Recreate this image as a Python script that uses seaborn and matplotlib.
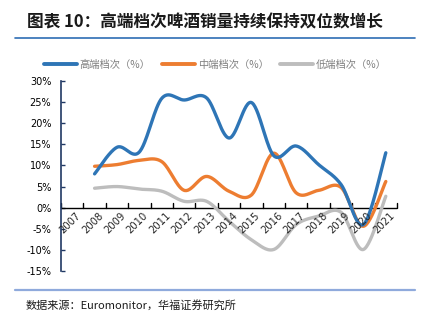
import numpy as np
import pandas as pd
import matplotlib
matplotlib.use("Agg")
import matplotlib.pyplot as plt
import seaborn as sns
from matplotlib.lines import Line2D

sns.set_theme(style="white")
plt.rcParams['font.family'] = ['Noto Sans CJK SC', 'DejaVu Sans']
plt.rcParams['axes.unicode_minus'] = False

years = ["2007", "2008", "2009", "2010", "2011", "2012", "2013", "2014",
         "2015", "2016", "2017", "2018", "2019", "2020", "2021"]
high = [np.nan, 8.0, 14.3, 13.2, 25.9, 25.5, 26.0, 16.5, 24.9, 12.3, 14.6, 10.2, 5.5, -4.0, 13.0]
mid = [np.nan, 9.8, 10.2, 11.2, 10.9, 4.1, 7.4, 3.9, 3.0, 12.9, 3.5, 4.1, 4.8, -4.4, 6.2]
low = [np.nan, 4.6, 5.0, 4.4, 3.9, 1.5, 1.5, -3.2, -7.6, -9.9, -4.0, -2.0, -1.1, -9.9, 2.7]
series_names = ["高端档次（%）", "中端档次（%）", "低端档次（%）"]
colors = ["#2E75B6", "#ED7D31", "#BDBDBD"]
yticks = [30, 25, 20, 15, 10, 5, 0, -5, -10, -15]


def smooth(xs, ys, n=30):
    """Excel-like smoothing (Catmull-Rom / Bezier) for drawing only."""
    xs = np.asarray(xs, float)
    ys = np.asarray(ys, float)
    P = np.column_stack([xs, ys])
    out = []
    for i in range(len(P) - 1):
        p0 = P[i - 1] if i > 0 else P[i]
        p1 = P[i]
        p2 = P[i + 1]
        p3 = P[i + 2] if i + 2 < len(P) else P[i + 1]
        c1 = p1 + (p2 - p0) / 6.0
        c2 = p2 - (p3 - p1) / 6.0
        t = np.linspace(0, 1, n, endpoint=(i == len(P) - 2))[:, None]
        b = ((1 - t) ** 3) * p1 + 3 * ((1 - t) ** 2) * t * c1 + 3 * (1 - t) * t ** 2 * c2 + t ** 3 * p2
        out.append(b)
    out = np.vstack(out)
    return out[:, 0], out[:, 1]


fig = plt.figure(figsize=(4.22, 3.24), dpi=100)
ax = fig.add_axes([0.1445, 0.1636, 0.7963, 0.5864])

xpos = np.arange(len(years))
frames = []
for name, vals in zip(series_names, [high, mid, low]):
    v = np.asarray(vals, float)
    m = ~np.isnan(v)
    sx, sy = smooth(xpos[m], v[m])
    frames.append(pd.DataFrame({"x": sx, "y": sy, "s": name, "order": np.arange(len(sx))}))
df = pd.concat(frames, ignore_index=True)

sns.lineplot(data=df, x="x", y="y", hue="s", palette=dict(zip(series_names, colors)),
             hue_order=series_names[::-1], sort=False, estimator=None, units="s",
             lw=2.4, ax=ax, legend=False, solid_capstyle="round")

ax.set_xlim(-0.5, len(years) - 0.5)
ax.set_ylim(-15, 30)
ax.set_yticks(yticks)
ax.set_yticklabels([f"{t}%" for t in yticks], fontsize=7, color="#000000", family=['DejaVu Sans'])
ax.set_xlabel("")
ax.set_ylabel("")

for s in ["top", "right", "bottom"]:
    ax.spines[s].set_visible(False)
ax.spines["left"].set_color("#203864")
ax.spines["left"].set_linewidth(1.2)
ax.tick_params(axis="y", direction="in", length=3, color="#203864", width=1, pad=7, left=True)
ax.tick_params(axis="x", bottom=False, labelbottom=False)

# zero axis with category ticks pointing up
ax.axhline(0, color="black", lw=1.0, zorder=1)
for b in np.arange(-0.5, len(years) + 0.5, 1.0):
    ax.plot([b, b], [0, 1.0], color="black", lw=1.0, zorder=1, clip_on=False)
for i, y in enumerate(years):
    ax.text(i + 0.15, -0.6, y, rotation=45, ha="right", va="top", rotation_mode="anchor",
            fontsize=7.2, family=['DejaVu Sans'])

# legend
handles = [Line2D([0], [0], color=c, lw=2.8, solid_capstyle="round") for c in colors]
leg = fig.legend(handles, series_names, loc="center", bbox_to_anchor=(0.51, 0.80), ncol=3,
                 frameon=False, fontsize=7.4, handlelength=3.2, handletextpad=0.3,
                 columnspacing=1.1, labelcolor="#7F7F7F")

# title and rules
fig.text(0.063, 0.930, "图表 10：高端档次啤酒销量持续保持双位数增长", fontsize=12,
         fontweight="bold", ha="left", va="center", color="#1a1a1a")
fig.add_artist(Line2D([0.036, 0.984], [0.882, 0.882], color="#2E6DB4", lw=1.2))
fig.add_artist(Line2D([0.036, 0.984], [0.105, 0.105], color="#8FAADC", lw=1.6))
fig.text(0.06, 0.059, "数据来源：Euromonitor，华福证券研究所", fontsize=8, ha="left",
         va="center", color="#1a1a1a")

fig.savefig("out.png", dpi=100)
